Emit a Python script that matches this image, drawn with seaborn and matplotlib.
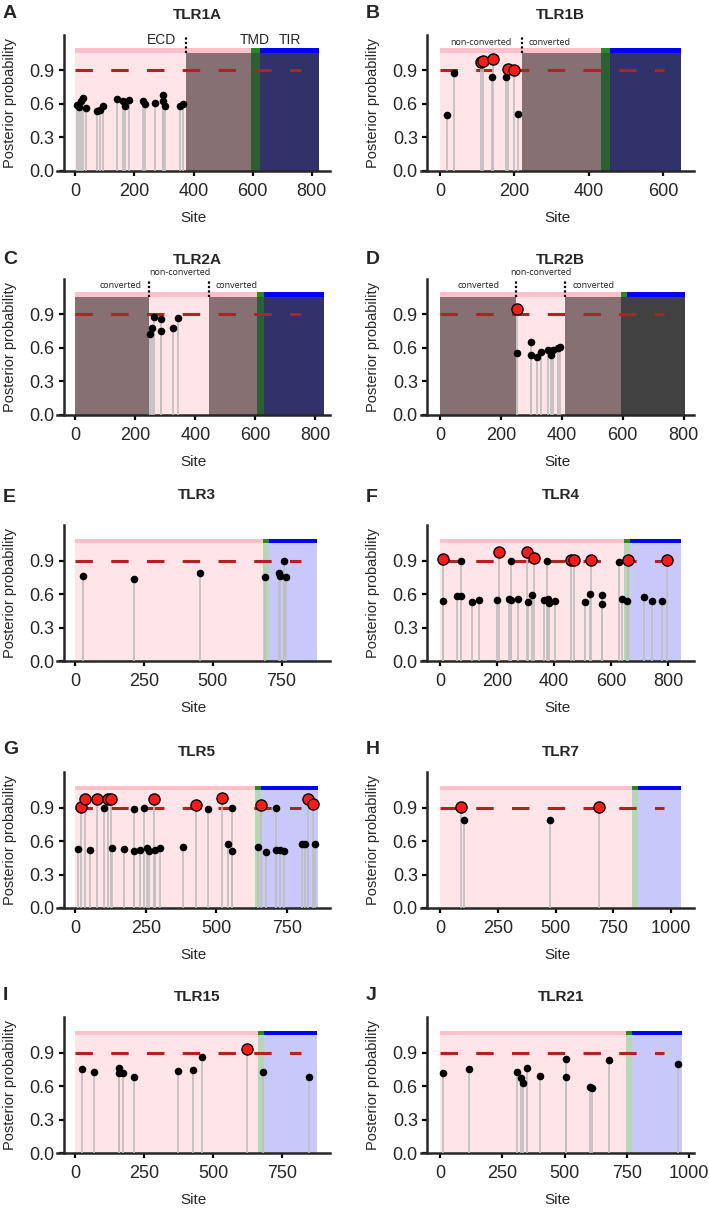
import matplotlib
matplotlib.use('Agg')
import matplotlib.pyplot as plt
import seaborn as sns
import pandas as pd

# ---------------- data ----------------
panel_letters = ['A', 'B', 'C', 'D', 'E', 'F', 'G', 'H', 'I', 'J']
panel_names = ['TLR1A', 'TLR1B', 'TLR2A', 'TLR2B', 'TLR3',
               'TLR4', 'TLR5', 'TLR7', 'TLR15', 'TLR21']

tlr1a_sites = [7, 11, 18, 27, 36, 72, 84, 93, 142, 160, 169, 183, 228, 237, 269, 296, 298, 305, 355, 366]
tlr1a_probs = [0.59, 0.57, 0.62, 0.65, 0.56, 0.53, 0.54, 0.58, 0.645, 0.62, 0.58, 0.635,
               0.62, 0.60, 0.61, 0.68, 0.62, 0.58, 0.58, 0.595]

tlr1b_sites = [18, 38, 110, 116, 141, 142, 177, 183, 200, 210]
tlr1b_probs = [0.50, 0.875, 0.975, 0.985, 0.84, 1.0, 0.84, 0.91, 0.905, 0.51]

tlr2a_sites = [249, 257, 262, 287, 287, 327, 341]
tlr2a_probs = [0.72, 0.775, 0.875, 0.86, 0.745, 0.775, 0.865]

tlr2b_sites = [252, 254, 298, 298, 320, 331, 355, 364, 372, 388, 394]
tlr2b_probs = [0.945, 0.556, 0.65, 0.53, 0.515, 0.56, 0.58, 0.535, 0.575, 0.60, 0.61]

tlr3_sites = [27, 215, 455, 690, 742, 745, 757, 765]
tlr3_probs = [0.76, 0.74, 0.785, 0.75, 0.79, 0.76, 0.895, 0.755]

tlr4_sites = [9, 12, 61, 72, 75, 112, 137, 199, 208, 242, 250, 250, 273, 304, 308, 323, 330,
              364, 374, 379, 382, 405, 458, 470, 508, 526, 528, 569, 569, 627, 638, 656, 659,
              715, 742, 780, 797]
tlr4_probs = [0.54, 0.915, 0.58, 0.895, 0.58, 0.525, 0.545, 0.55, 0.98, 0.56, 0.895, 0.545,
              0.56, 0.98, 0.525, 0.595, 0.92, 0.55, 0.895, 0.56, 0.52, 0.54, 0.905, 0.905,
              0.525, 0.60, 0.91, 0.59, 0.515, 0.89, 0.555, 0.54, 0.905, 0.575, 0.54, 0.54, 0.905]

tlr5_sites = [11, 19, 34, 51, 76, 101, 117, 127, 131, 174, 207, 209, 230, 244, 253, 262, 279,
              283, 301, 383, 428, 470, 520, 543, 556, 557, 647, 658, 675, 710, 710, 724, 741,
              805, 814, 826, 843, 851]
tlr5_probs = [0.53, 0.905, 0.98, 0.52, 0.98, 0.895, 0.98, 0.975, 0.54, 0.53, 0.885, 0.51,
              0.52, 0.895, 0.54, 0.515, 0.975, 0.52, 0.54, 0.55, 0.92, 0.885, 0.99, 0.57,
              0.895, 0.515, 0.545, 0.92, 0.50, 0.895, 0.52, 0.52, 0.515, 0.575, 0.575, 0.98,
              0.935, 0.575]

tlr7_sites = [89, 104, 475, 690]
tlr7_probs = [0.905, 0.785, 0.79, 0.902]

tlr15_sites = [25, 69, 158, 158, 174, 212, 373, 427, 458, 620, 678, 846]
tlr15_probs = [0.75, 0.73, 0.76, 0.72, 0.72, 0.685, 0.735, 0.745, 0.86, 0.93, 0.73, 0.68]

tlr21_sites = [11, 117, 310, 324, 332, 348, 403, 504, 507, 601, 609, 678, 956]
tlr21_probs = [0.715, 0.755, 0.725, 0.67, 0.625, 0.76, 0.695, 0.845, 0.68, 0.59, 0.585, 0.83, 0.80]

site_data = {
    'TLR1A': (tlr1a_sites, tlr1a_probs), 'TLR1B': (tlr1b_sites, tlr1b_probs),
    'TLR2A': (tlr2a_sites, tlr2a_probs), 'TLR2B': (tlr2b_sites, tlr2b_probs),
    'TLR3': (tlr3_sites, tlr3_probs), 'TLR4': (tlr4_sites, tlr4_probs),
    'TLR5': (tlr5_sites, tlr5_probs), 'TLR7': (tlr7_sites, tlr7_probs),
    'TLR15': (tlr15_sites, tlr15_probs), 'TLR21': (tlr21_sites, tlr21_probs),
}

# domains: ECD 0..tmd_start, TMD tmd_start..tmd_end, TIR tmd_end..length
tmd_start = [594, 433, 604, 593, 681, 645, 638, 831, 660, 747]
tmd_end = [624, 457, 630, 615, 703, 666, 658, 856, 682, 771]
prot_len = [826, 648, 829, 805, 878, 846, 859, 1043, 876, 971]

# gene-converted stretches
converted = {
    'TLR1A': [(374, 826)],
    'TLR1B': [(221, 648)],
    'TLR2A': [(0, 244), (446, 829)],
    'TLR2B': [(0, 251), (410, 805)],
}
region_text = {
    'TLR1B': [(111, 1.15, 'non-converted'), (295, 1.15, 'converted')],
    'TLR2A': [(149, 1.155, 'converted'), (349, 1.275, 'non-converted'), (538, 1.155, 'converted')],
    'TLR2B': [(128, 1.155, 'converted'), (333, 1.275, 'non-converted'), (504, 1.155, 'converted')],
}
domain_text = [(293, 'ECD'), (607, 'TMD'), (725, 'TIR')]

threshold = 0.9
x_limits = [(-61, 863), (-52, 682), (-60, 850), (-63, 833), (-65, 927),
            (-68, 890), (-64, 904), (-84, 1098), (-65, 923), (-78, 1019)]
x_ticks = [[0, 200, 400, 600, 800], [0, 200, 400, 600], [0, 200, 400, 600, 800],
           [0, 200, 400, 600, 800], [0, 250, 500, 750], [0, 200, 400, 600, 800],
           [0, 250, 500, 750], [0, 250, 500, 750, 1000], [0, 250, 500, 750],
           [0, 250, 500, 750, 1000]]

light = {'ecd': '#FFE4E8', 'tmd': '#B4D8B4', 'tir': '#C8C8FA'}
dark = {'ecd': '#877072', 'tmd': '#2E5F33', 'tir': '#32326A'}
dark_tail = {'TLR2B': '#414141'}
bar_col = {'ecd': '#FFC0CB', 'tmd': '#228B22', 'tir': '#0000FF'}

sns.set_style('ticks')
plt.rcParams['font.family'] = ['Liberation Sans', 'DejaVu Sans']

W, H = 709, 1209
fig = plt.figure(figsize=(W / 100, H / 100), dpi=100)

col_left = [57.3, 420.7]
row_bottom = [170.5, 414.5, 661, 908, 1153]
ax_w, ax_h = 273, 136
title_y = [15, 260, 495, 752, 997]
letter_y = [13, 260, 497, 750, 995]
BG_TOP, BAR_TOP, Y_TOP = 1.055, 1.095, 1.22


def draw_panel(ax, i):
    name = panel_names[i]
    sites, probs = site_data[name]
    t0, t1, L = tmd_start[i], tmd_end[i], prot_len[i]
    conv = converted.get(name, [])

    # domain background
    bounds = sorted(set([0, t0, t1, L] + [b for seg in conv for b in seg]))
    for a, b in zip(bounds[:-1], bounds[1:]):
        mid = (a + b) / 2
        dom = 'ecd' if mid < t0 else ('tmd' if mid < t1 else 'tir')
        is_conv = any(s <= mid <= e for s, e in conv)
        if is_conv:
            col = dark_tail.get(name, dark[dom]) if dom != 'ecd' else dark[dom]
        else:
            col = light[dom]
        ax.fill_between([a, b], 0, BG_TOP, color=col, lw=0, zorder=0)
    for a, b, dom in [(0, t0, 'ecd'), (t0, t1, 'tmd'), (t1, L, 'tir')]:
        ax.fill_between([a, b], BG_TOP, BAR_TOP, color=bar_col[dom], lw=0, zorder=0)

    # threshold
    xlo, xhi = x_limits[i]
    x0 = (0 - xlo) / (xhi - xlo)
    ax.plot([x0, 0.893], [threshold, threshold], transform=ax.get_yaxis_transform(),
            color='#B22222', lw=2.2, dashes=(5.7, 6.0), zorder=2)

    # stems and points
    ax.vlines(sites, 0, probs, colors='#BEBEBE', lw=1.2, zorder=3)
    df = pd.DataFrame({'site': sites, 'prob': probs})
    df['sig'] = df['prob'] > threshold
    sns.scatterplot(data=df[~df['sig']], x='site', y='prob', color='black', s=30,
                    linewidth=0, ax=ax, zorder=4)
    sns.scatterplot(data=df[df['sig']], x='site', y='prob', color='#FF1A1A', s=64,
                    edgecolor='black', linewidth=1.0, ax=ax, zorder=5)

    # conversion boundaries
    for s, e in conv:
        for b in (s, e):
            if 0 < b < L:
                ax.plot([b, b], [BG_TOP, 1.2], ls=(0, (1, 1)), color='black', lw=1.6,
                        clip_on=False, zorder=6)
    for x, y, t in region_text.get(name, []):
        ax.text(x, y, t, ha='center', va='center', fontsize=6.5, color='#222222',
                family=['Open Sans', 'DejaVu Sans'], clip_on=False)
    if name == 'TLR1A':
        for x, t in domain_text:
            ax.text(x, 1.11, t, ha='center', va='bottom', fontsize=10, clip_on=False)

    ax.set_xlim(xlo, xhi)
    ax.set_ylim(0, Y_TOP)
    ax.set_xticks(x_ticks[i])
    ax.set_yticks([0, 0.3, 0.6, 0.9])
    ax.set_yticklabels(['0.0', '0.3', '0.6', '0.9'])
    sns.despine(ax=ax)
    ax.spines['left'].set_position(('axes', 0.024))
    for sp in ('left', 'bottom'):
        ax.spines[sp].set_linewidth(1.8)
    ax.tick_params(axis='both', direction='out', length=3.8, width=1.6,
                   labelsize=13, color='black')
    ax.tick_params(axis='x', pad=5)
    ax.tick_params(axis='y', pad=3)
    ax.set_xlabel('Site', fontsize=11, labelpad=8)
    ax.set_ylabel('Posterior probability', fontsize=10.5, labelpad=9)
    ax.set_facecolor('white')


for i in range(10):
    r, c = divmod(i, 2)
    rect = [col_left[c] / W, 1 - row_bottom[r] / H, ax_w / W, ax_h / H]
    ax = fig.add_axes(rect)
    draw_panel(ax, i)
    cx = col_left[c] + 140
    fig.text(cx / W, 1 - title_y[r] / H, panel_names[i], ha='center', va='center',
             fontsize=11, fontweight='bold')
    lx = 3 if c == 0 else 366
    fig.text(lx / W, 1 - letter_y[r] / H, panel_letters[i], ha='left', va='center',
             fontsize=14, fontweight='bold')

fig.savefig('out.png', dpi=100)
